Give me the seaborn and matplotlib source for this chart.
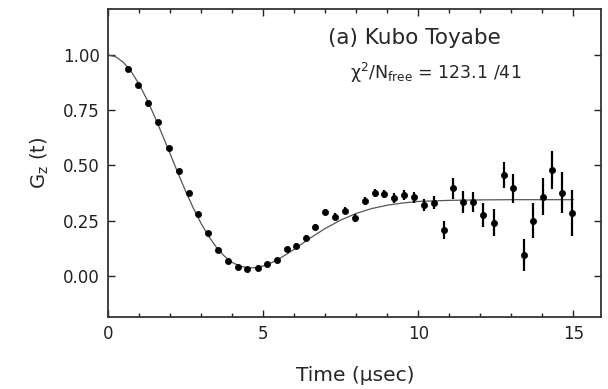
import numpy as np
import pandas as pd
import seaborn as sns
import matplotlib
matplotlib.use("Agg")
import matplotlib.pyplot as plt
from matplotlib.ticker import MultipleLocator

# ======================
# DATA
# ======================
t_data = [0.64, 0.96, 1.28, 1.60, 1.95, 2.27, 2.59, 2.89, 3.22, 3.54,
          3.85, 4.18, 4.47, 4.82, 5.12, 5.44, 5.76, 6.06, 6.39, 6.68,
          7.00, 7.32, 7.65, 7.95, 8.29, 8.61, 8.90, 9.23, 9.55, 9.87,
          10.17, 10.49, 10.82, 11.12, 11.44, 11.76, 12.09, 12.43, 12.75, 13.05,
          13.41, 13.70, 14.02, 14.31, 14.64, 14.96]
g_data = [0.937, 0.864, 0.781, 0.695, 0.578, 0.475, 0.374, 0.279, 0.196, 0.118,
          0.069, 0.042, 0.030, 0.035, 0.053, 0.072, 0.121, 0.136, 0.171, 0.223,
          0.288, 0.268, 0.294, 0.261, 0.341, 0.374, 0.371, 0.352, 0.367, 0.356,
          0.321, 0.332, 0.208, 0.397, 0.336, 0.336, 0.276, 0.241, 0.457, 0.397,
          0.095, 0.250, 0.359, 0.480, 0.377, 0.284]
g_err = [0.006, 0.006, 0.006, 0.006, 0.007, 0.007, 0.007, 0.007, 0.008, 0.008,
         0.008, 0.009, 0.009, 0.010, 0.010, 0.011, 0.011, 0.012, 0.013, 0.013,
         0.014, 0.015, 0.016, 0.017, 0.018, 0.019, 0.020, 0.022, 0.023, 0.025,
         0.027, 0.029, 0.041, 0.047, 0.050, 0.045, 0.054, 0.060, 0.060, 0.066,
         0.071, 0.078, 0.083, 0.085, 0.094, 0.104]

# fitted Kubo-Toyabe curve
t_fit = [0.0, 0.25, 0.5, 0.75, 1.0, 1.25, 1.5, 1.75, 2.0, 2.25,
         2.5, 2.75, 3.0, 3.25, 3.5, 3.75, 4.0, 4.25, 4.5, 4.75,
         5.0, 5.25, 5.5, 5.75, 6.0, 6.5, 7.0, 7.5, 8.0, 8.5,
         9.0, 9.5, 10.0, 11.0, 12.0, 13.0, 14.0, 15.0]
g_fit = [1.000, 0.991, 0.965, 0.923, 0.866, 0.798, 0.720, 0.637, 0.551, 0.465,
         0.382, 0.305, 0.236, 0.177, 0.127, 0.089, 0.061, 0.044, 0.037, 0.037,
         0.045, 0.059, 0.077, 0.098, 0.121, 0.170, 0.215, 0.253, 0.283, 0.305,
         0.320, 0.330, 0.337, 0.342, 0.344, 0.345, 0.345, 0.345]

pts = pd.DataFrame({"t": t_data, "g": g_data, "err": g_err})
fit = pd.DataFrame({"t": t_fit, "g": g_fit})

# ======================
# PLOT
# ======================
sns.set_style("ticks")
plt.rcParams["font.family"] = ["DejaVu Sans"]

fig = plt.figure(figsize=(6.08, 3.89), dpi=100)
ax = fig.add_axes([0.178, 0.185, 0.811, 0.792])

sns.lineplot(data=fit, x="t", y="g", ax=ax, color="#555555", linewidth=0.9)
ax.errorbar(pts["t"], pts["g"], yerr=pts["err"], fmt="none",
            ecolor="black", elinewidth=1.6, capsize=0)
sns.scatterplot(data=pts, x="t", y="g", ax=ax, color="black", s=20,
                marker="o", edgecolor="black", linewidth=0.5, zorder=3)

ax.set_xlim(0, 15.9)
ax.set_ylim(-0.186, 1.208)
ax.set_xticks([0, 5, 10, 15])
ax.xaxis.set_minor_locator(MultipleLocator(1))
ax.set_yticks([0.0, 0.25, 0.5, 0.75, 1.0])
ax.set_yticklabels(["0.00", "0.25", "0.50", "0.75", "1.00"])

ax.tick_params(which="both", direction="in", top=True, right=True,
               labelsize=12, colors="#222222")
ax.tick_params(which="major", length=5, width=1)
ax.tick_params(which="minor", length=3, width=1)
ax.tick_params(axis="x", pad=6)
ax.tick_params(axis="y", pad=6)
for s in ax.spines.values():
    s.set_linewidth(1.3)
    s.set_color("#333333")

ax.set_xlabel("Time (\u03bcsec)", fontsize=14.5, labelpad=16)
ax.set_ylabel("G$_\\mathrm{z}$ (t)", fontsize=14, labelpad=9)

ax.text(0.445, 0.905, "(a) Kubo Toyabe", transform=ax.transAxes,
        fontsize=15.5, ha="left", va="center")
ax.text(0.49, 0.792, "\u03c7$^2$/N$_\\mathrm{free}$ = 123.1 /41", transform=ax.transAxes,
        fontsize=12.5, ha="left", va="center")

fig.savefig("out.png", dpi=100)
